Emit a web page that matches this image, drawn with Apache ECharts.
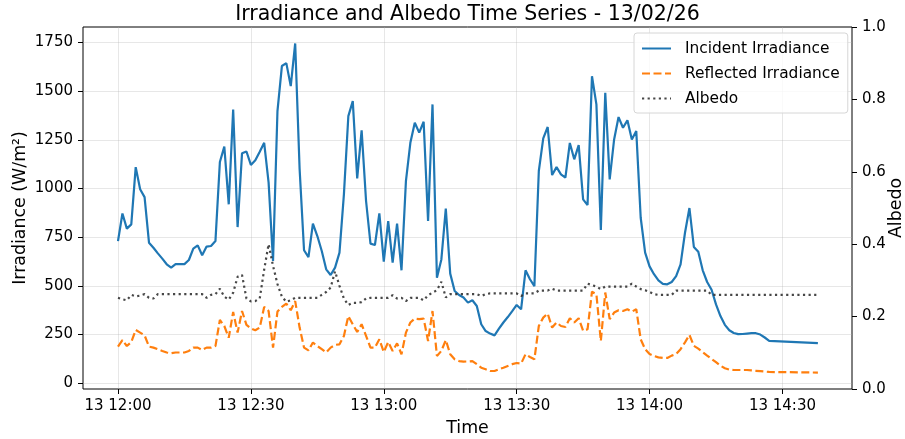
<!DOCTYPE html>
<html>
<head>
<meta charset="utf-8">
<script src="https://cdn.jsdelivr.net/npm/echarts@6/dist/echarts.min.js"></script>
<style>
html,body{margin:0;padding:0;background:#fff;}
#chart{width:905px;height:439px;}
</style>
</head>
<body>
<div id="chart"></div>
<script>
// minutes after 13/02/26 12:00
const minutes = [
  0,1,2,3,4,5,6,7,8,9,
  10,11,12,13,14,15,16,17,18,19,
  20,21,22,23,24,25,26,27,28,29,
  30,31,32,33,34,35,36,37,38,39,
  40,41,42,43,44,45,46,47,48,49,
  50,51,52,53,54,55,56,57,58,59,
  60,61,62,63,64,65,66,67,68,69,
  70,71,72,73,74,75,76,77,78,79,
  80,81,82,83,84,85,86,87,88,89,
  90,91,92,93,94,95,96,97,98,99,
  100,101,102,103,104,105,106,107,108,109,
  110,111,112,113,114,115,116,117,118,119,
  120,121,122,123,124,125,126,127,128,129,
  130,131,132,133,134,135,136,137,138,139,
  140,141,142,143,144,145,146,147,158
];
const incident = [
  730,872,794,816,1110,996,956,722,696,667,
  640,611,594,612,612,612,633,691,708,657,
  702,705,730,1136,1215,919,1406,802,1181,1190,
  1121,1145,1189,1235,1030,628,1398,1629,1644,1526,
  1745,1100,683,648,820,756,679,585,556,594,
  671,970,1372,1449,1052,1299,936,717,710,872,
  625,833,620,820,580,1038,1235,1338,1287,1343,
  833,1432,542,636,897,563,474,453,440,414,
  426,397,303,268,255,246,280,312,340,370,
  402,380,580,534,499,1090,1258,1316,1069,1110,
  1073,1056,1234,1150,1223,944,915,1577,1432,787,
  1492,1047,1252,1367,1312,1350,1252,1295,850,671,
  600,560,528,510,508,520,550,610,773,900,
  700,675,580,520,480,405,345,300,272,258,
  252,253,255,257,257,250,235,218,206
];
const reflected = [
  188,222,191,212,274,260,246,188,183,175,
  166,158,154,158,158,158,166,183,183,171,
  183,183,191,325,294,234,366,260,371,300,
  282,272,286,392,371,183,368,392,409,375,
  422,286,183,169,209,191,175,158,183,197,
  200,243,345,303,263,303,243,183,183,226,
  160,212,166,205,149,260,312,332,329,332,
  217,371,140,166,222,149,123,114,111,112,
  114,98,80,72,63,63,72,80,89,98,
  104,101,149,135,123,294,337,358,286,312,
  294,289,334,312,334,269,277,470,457,217,
  466,329,363,375,371,380,368,380,226,175,
  150,140,133,130,130,142,150,175,210,248,
  192,178,160,142,125,108,90,77,70,68,
  68,68,68,66,64,62,60,58,55
];
const albedo = [
  0.252,0.248,0.245,0.26,0.256,0.258,0.262,0.252,0.25,0.262,
  0.262,0.262,0.262,0.262,0.262,0.262,0.262,0.262,0.262,0.262,
  0.252,0.26,0.262,0.277,0.255,0.247,0.266,0.31,0.315,0.25,
  0.242,0.243,0.25,0.33,0.40,0.34,0.29,0.255,0.241,0.245,
  0.252,0.252,0.252,0.252,0.252,0.252,0.26,0.268,0.28,0.325,
  0.285,0.25,0.232,0.238,0.238,0.24,0.25,0.252,0.252,0.252,
  0.252,0.252,0.259,0.25,0.252,0.243,0.252,0.252,0.252,0.245,
  0.259,0.266,0.273,0.296,0.253,0.262,0.262,0.262,0.262,0.262,
  0.262,0.262,0.257,0.262,0.264,0.264,0.264,0.264,0.264,0.264,
  0.264,0.257,0.264,0.264,0.264,0.272,0.272,0.272,0.277,0.272,
  0.272,0.272,0.272,0.272,0.272,0.272,0.291,0.287,0.283,0.276,
  0.283,0.283,0.283,0.283,0.283,0.283,0.291,0.283,0.276,0.273,
  0.268,0.262,0.26,0.26,0.26,0.26,0.272,0.272,0.272,0.272,
  0.272,0.272,0.272,0.272,0.26,0.26,0.26,0.26,0.26,0.26,
  0.26,0.26,0.26,0.26,0.26,0.26,0.26,0.26,0.26
];
const xTickMinutes = [0,30,60,90,120,150];
const yLeftTicks = [0,250,500,750,1000,1250,1500,1750];
const titleText = 'Irradiance and Albedo Time Series - 13/02/26';
const seriesNames = ['Incident Irradiance','Reflected Irradiance','Albedo'];

const pad2 = n => (n<10?'0':'')+n;
const fmtTime = m => { const tot = 12*60 + Math.round(m); return '13 ' + pad2(Math.floor(tot/60)) + ':' + pad2(tot%60); };

const font = 'DejaVu Sans';
const tickFont = 15;
const chart = echarts.init(document.getElementById('chart'), null, {renderer:'canvas'});
chart.setOption({
  animation:false,
  backgroundColor:'#fff',
  title:{
    text:titleText, left:467.5, textAlign:'center', top:4, padding:0,
    textStyle:{fontFamily:font, fontSize:20.5, fontWeight:'normal', color:'#000'}
  },
  legend:{
    data:seriesNames, orient:'vertical', left:634, top:33,
    padding:[8,8,7,7], itemGap:10, itemWidth:29, itemHeight:14,
    backgroundColor:'rgba(255,255,255,0.8)', borderColor:'#d6d6d6', borderWidth:1, borderRadius:3,
    itemStyle:{opacity:0, borderWidth:0},
    textStyle:{fontFamily:font, fontSize:15.4, color:'#000', padding:[0,0,0,9], lineHeight:14}
  },
  grid:{left:83, right:53, top:27, bottom:50, show:true, borderColor:'#000', borderWidth:1,
        backgroundColor:'transparent', outerBoundsMode:'none', containLabel:false},
  xAxis:{
    type:'value', min:-7.9, max:165.7,
    name:'Time', nameLocation:'middle', nameGap:31, nameMoveOverlap:false,
    nameTextStyle:{fontFamily:font, fontSize:17.4, color:'#000'},
    axisLine:{show:false, onZero:false},
    axisTick:{show:true, length:5, lineStyle:{color:'#000'}, customValues:xTickMinutes},
    axisLabel:{fontFamily:font, fontSize:tickFont, color:'#000', margin:10, customValues:xTickMinutes, formatter:v=>fmtTime(v)},
    splitLine:{show:true, lineStyle:{color:'rgba(176,176,176,0.3)', width:1}}
  },
  yAxis:[{
    type:'value', min:-29.5, max:1829.5, position:'left',
    name:'Irradiance (W/m²)', nameLocation:'middle', nameGap:54, nameRotate:90, nameMoveOverlap:false,
    nameTextStyle:{fontFamily:font, fontSize:17.4, color:'#000'},
    axisLine:{show:false, onZero:false},
    axisTick:{show:true, length:5, lineStyle:{color:'#000'}, customValues:yLeftTicks},
    axisLabel:{fontFamily:font, fontSize:tickFont, color:'#000', margin:10, customValues:yLeftTicks, formatter:v=>String(v)},
    splitLine:{show:true, lineStyle:{color:'rgba(176,176,176,0.3)', width:1}}
  },{
    type:'value', min:0, max:1, interval:0.2, position:'right',
    name:'Albedo', nameLocation:'middle', nameGap:36, nameRotate:90, nameMoveOverlap:false,
    nameTextStyle:{fontFamily:font, fontSize:17.4, color:'#000'},
    axisLine:{show:false, onZero:false},
    axisTick:{show:true, length:5, lineStyle:{color:'#000'}},
    axisLabel:{fontFamily:font, fontSize:tickFont, color:'#000', margin:10, formatter:v=>v.toFixed(1)},
    splitLine:{show:false}
  }],
  series:[{
    name:seriesNames[0], type:'line', yAxisIndex:0, symbol:'none', showSymbol:false,
    data:minutes.map((m,i)=>[m, incident[i]]),
    lineStyle:{color:'#1f77b4', width:2.2}, itemStyle:{color:'#1f77b4'}, z:2
  },{
    name:seriesNames[1], type:'line', yAxisIndex:0, symbol:'none', showSymbol:false,
    data:minutes.map((m,i)=>[m, reflected[i]]),
    lineStyle:{color:'#ff7f0e', width:2.2, type:[8,3.5], cap:'butt'}, itemStyle:{color:'#ff7f0e'}, z:3
  },{
    name:seriesNames[2], type:'line', yAxisIndex:1, symbol:'none', showSymbol:false,
    data:minutes.map((m,i)=>[m, albedo[i]]),
    lineStyle:{color:'#333', width:2.2, type:[2.2,3.4], cap:'butt', opacity:0.9}, itemStyle:{color:'#333'}, z:4
  }]
});
</script>
</body>
</html>
